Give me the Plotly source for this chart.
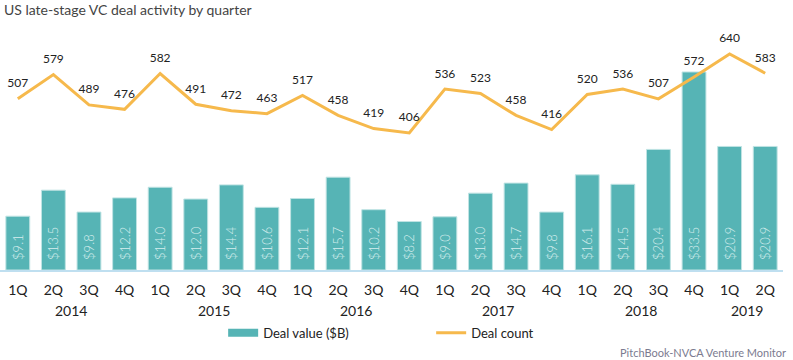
import plotly.graph_objects as go

quarters = ["1Q","2Q","3Q","4Q","1Q","2Q","3Q","4Q","1Q","2Q","3Q","4Q",
            "1Q","2Q","3Q","4Q","1Q","2Q","3Q","4Q","1Q","2Q"]
years = ["2014"]*4 + ["2015"]*4 + ["2016"]*4 + ["2017"]*4 + ["2018"]*4 + ["2019"]*2
deal_value = [9.1, 13.5, 9.8, 12.2, 14.0, 12.0, 14.4, 10.6, 12.1, 15.7, 10.2, 8.2,
              9.0, 13.0, 14.7, 9.8, 16.1, 14.5, 20.4, 33.5, 20.9, 20.9]
deal_count = [507, 579, 489, 476, 582, 491, 472, 463, 517, 458, 419, 406,
              536, 523, 458, 416, 520, 536, 507, 572, 640, 583]

x = list(range(len(quarters)))
FONT = "Lato, Noto Sans, sans-serif"
TEAL = "#56B4B5"
ORANGE = "#F6B94C"

fig = go.Figure()
fig.add_trace(go.Bar(
    x=x, y=deal_value, name="Deal value ($B)", showlegend=False,
    marker=dict(color=TEAL, line=dict(color="#bfe3e3", width=1)),
    text=["\u00a0\u00a0" + f"${v:.1f}" for v in deal_value],
    textposition="inside", insidetextanchor="start", textangle=-90,
    textfont=dict(color="#d6eeee", size=13, family=FONT, weight=300),
    cliponaxis=False,
))
# legend-only entry drawn as a wide teal swatch
fig.add_trace(go.Scatter(
    x=[None], y=[None], name="Deal value ($B)", mode="lines",
    line=dict(color=TEAL, width=8),
))
fig.add_trace(go.Scatter(
    x=x, y=deal_count, name="Deal count", yaxis="y2",
    mode="lines+markers+text", line=dict(color=ORANGE, width=3),
    marker=dict(size=12, color="rgba(0,0,0,0)"),
    text=[str(v) for v in deal_count], textposition="top center",
    textfont=dict(color="#222222", size=12, family=FONT),
    cliponaxis=False,
))

# year group labels
groups = {}
for i, yv in enumerate(years):
    groups.setdefault(yv, []).append(i)
for yv, idx in groups.items():
    fig.add_annotation(x=sum(idx)/len(idx), y=-0.167, xref="x", yref="paper",
                       yanchor="middle",
                       text=yv, showarrow=False,
                       font=dict(size=14, color="#222222", family=FONT))

fig.add_annotation(x=1.006, y=-0.342, xref="paper", yref="paper",
                   xanchor="right", yanchor="middle",
                   text="PitchBook-NVCA Venture Monitor", showarrow=False,
                   font=dict(size=11, color="#7b7b90", family=FONT))

fig.update_layout(
    width=793, height=360,
    margin=dict(l=0, r=10, t=30, b=90, autoexpand=False),
    paper_bgcolor="white", plot_bgcolor="white",
    font=dict(family=FONT, color="#222222"),
    title=dict(text="US late-stage VC deal activity by quarter",
               x=0.005, xanchor="left", y=0.972, yanchor="middle",
               font=dict(size=14, color="#444444", family=FONT)),
    bargap=0.33,
    showlegend=True,
    legend=dict(orientation="h", x=0.285, xanchor="left", y=-0.262, yanchor="middle",
                font=dict(size=13, color="#222222", family=FONT),
                itemwidth=30, entrywidth=163, traceorder="normal"),
    xaxis=dict(tickmode="array", tickvals=x, ticktext=quarters,
               range=[-0.5, len(x)-0.5], showgrid=False,
               showline=True, linecolor="#bfdff0", linewidth=2,
               ticks="outside", ticklen=6, tickcolor="rgba(0,0,0,0)",
               tickfont=dict(size=14, color="#222222", family=FONT)),
    yaxis=dict(range=[0, 40.6], visible=False, showgrid=False),
    yaxis2=dict(range=[0, 711], overlaying="y", side="right", visible=False,
                showgrid=False),
)

fig.write_html("out.html", config={"displayModeBar": False},
               post_script="document.body.style.margin='0';")
